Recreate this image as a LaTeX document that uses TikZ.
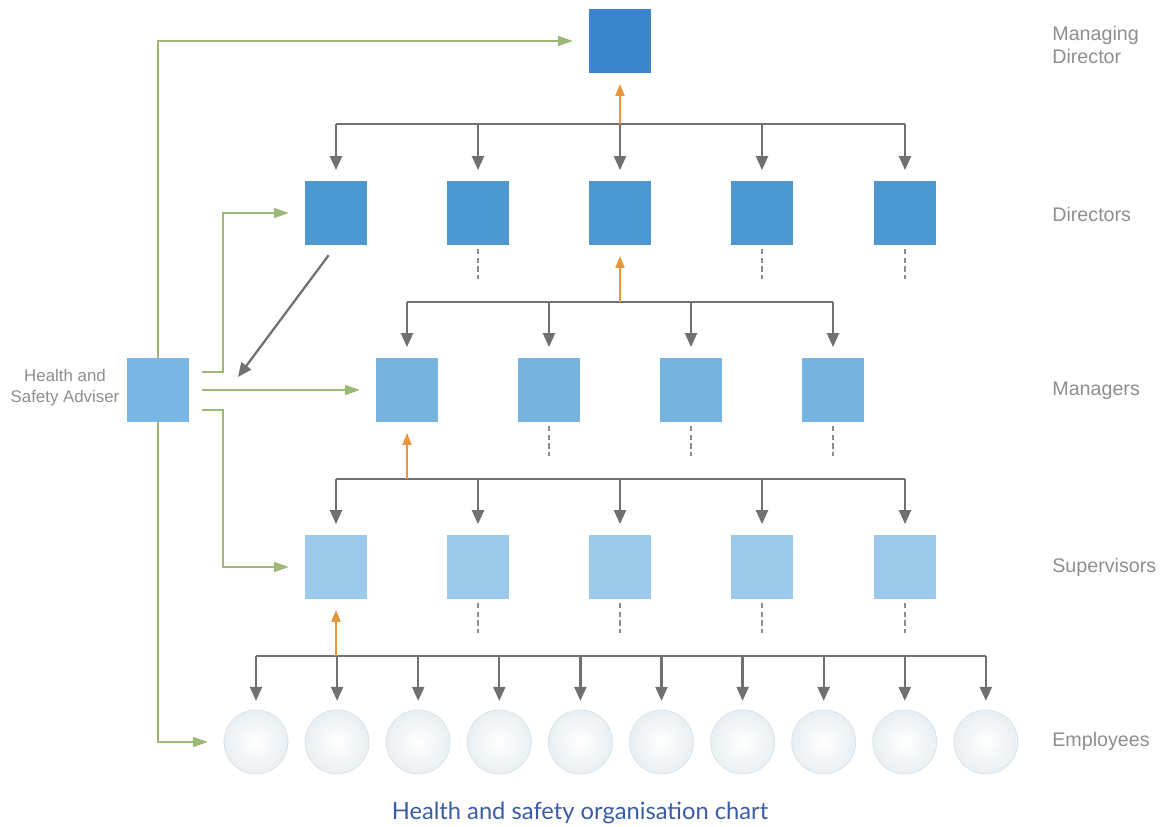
\documentclass[tikz,border=0pt]{standalone}
\usepackage{fontspec}
\setmainfont{Liberation Sans}
\newfontfamily\captionfont{Lato}
\usetikzlibrary{arrows.meta,calc,positioning}

\definecolor{mdblue}{HTML}{3A85CB}
\definecolor{dirblue}{HTML}{4A97D2}
\definecolor{manblue}{HTML}{76B3DF}
\definecolor{supblue}{HTML}{9CC9EA}
\definecolor{advblue}{HTML}{7AB7E4}
\definecolor{busgray}{HTML}{707070}
\definecolor{dashgray}{HTML}{8C8C8C}
\definecolor{uporange}{HTML}{E8953C}
\definecolor{advgreen}{HTML}{9CB877}
\definecolor{labelgray}{HTML}{8E8E8E}
\definecolor{empedge}{HTML}{D6E2EA}
\definecolor{captionblue}{HTML}{3B5CA6}

\begin{document}
\begin{tikzpicture}[
                x=0.02cm,y=-0.02cm,
                box/.style={rectangle,inner sep=0pt,minimum width=1.24cm,minimum height=1.28cm},
                mdbox/.style={box,fill=mdblue},
                dirbox/.style={box,fill=dirblue},
                manbox/.style={box,fill=manblue},
                supbox/.style={box,fill=supblue},
                advbox/.style={box,fill=advblue},
                empnode/.style={circle,inner sep=0pt,minimum size=1.28cm,draw=empedge,
                    inner color=white,outer color=empedge!55},
                bus/.style={draw=busgray,line width=1.3pt},
                downarrow/.style={bus,-{Triangle[length=0.28cm,width=0.24cm]},shorten >=6pt},
                uparrow/.style={draw=uporange,line width=1.1pt,-{Triangle[length=0.24cm,width=0.18cm]},shorten >=6pt},
                advline/.style={draw=advgreen,line width=1.1pt,-{Triangle[length=0.3cm,width=0.2cm]},shorten >=9pt},
                dotline/.style={draw=dashgray,line width=1pt,dash pattern=on 3pt off 2pt},
                rowlabel/.style={anchor=west,inner sep=0pt,text=labelgray,font=\fontsize{11.2}{13.6}\selectfont,align=left}
            ]
                \useasboundingbox (0,0) rectangle (1164,827);

                % the boxes, row by row
                \node[mdbox] (md) at (620,41) {};
                \foreach \i/\x in {1/336,2/478,3/620,4/762,5/905}
                    \node[dirbox] (dir\i) at (\x,213) {};
                \foreach \i/\x in {1/407,2/549,3/691,4/833}
                    \node[manbox] (man\i) at (\x,390) {};
                \foreach \i/\x in {1/336,2/478,3/620,4/762,5/905}
                    \node[supbox] (sup\i) at (\x,567) {};
                \foreach \i in {1,...,10}
                    \node[empnode] (emp\i) at ({256+81.1*(\i-1)},742) {};
                \node[advbox] (adv) at (158,390) {};

                % heights of the buses
                \coordinate (bus0) at (0,124);
                \coordinate (bus1) at (0,302);
                \coordinate (bus2) at (0,479);
                \coordinate (bus3) at (0,656);
                \coordinate (diagend) at (238,377);

                % buses and arrows down
                \draw[bus] (dir1.north |- bus0) -- (dir5.north |- bus0);
                \foreach \i in {1,...,5}
                    \draw[downarrow] (dir\i.north |- bus0) -- (dir\i.north);
                \draw[bus] (man1.north |- bus1) -- (man4.north |- bus1);
                \foreach \i in {1,...,4}
                    \draw[downarrow] (man\i.north |- bus1) -- (man\i.north);
                \draw[bus] (sup1.north |- bus2) -- (sup5.north |- bus2);
                \foreach \i in {1,...,5}
                    \draw[downarrow] (sup\i.north |- bus2) -- (sup\i.north);
                \draw[bus] (emp1.north |- bus3) -- (emp10.north |- bus3);
                \foreach \i in {1,...,10}
                    \draw[downarrow,shorten >=5pt] (emp\i.north |- bus3) -- (emp\i.north);

                % reporting up
                \draw[uparrow] (md.south |- bus0) -- (md.south);
                \draw[uparrow] (dir3.south |- bus1) -- (dir3.south);
                \draw[uparrow] (man1.south |- bus2) -- (man1.south);
                \draw[uparrow] (sup1.south |- bus3) -- (sup1.south);

                % dashed stubs
                \foreach \n in {dir2,dir4,dir5,man2,man3,man4,sup2,sup3,sup4,sup5}
                    \draw[dotline] ([yshift=-2pt]\n.south) -- ++(0,30);

                \draw[downarrow,shorten <=7pt,shorten >=0pt] (dir1.south) -- (diagend);

                % adviser links
                \draw[advline] (adv.north) |- (md.west);
                \draw[advline] ($(adv.east)+(13,-18)$) -- ++(21,0) |- (dir1.west);
                \draw[advline,shorten <=7pt] (adv.east) -- (man1.west);
                \draw[advline] ($(adv.east)+(13,20)$) -- ++(21,0) |- (sup1.west);
                \draw[advline] (adv.south) |- (emp1.west);

                % labels
                \node[rowlabel] (lmd) at (1052,45) {Managing\\Director};
                \node[rowlabel] (ldir) at (1052,214) {Directors};
                \node[rowlabel] (lman) at (1052,391) {Managers};
                \node[rowlabel] (lsup) at (1052,567) {Supervisors};
                \node[rowlabel] (lemp) at (1052,741) {Employees};
                \node[text=labelgray,align=center,font=\fontsize{9.6}{11.9}\selectfont] (ladv) at (65,388) {Health and\\Safety Adviser};
                \node[text=captionblue,font=\captionfont\fontsize{13.5}{16}\selectfont] (caption) at (580,813) {Health and safety organisation chart};
            \end{tikzpicture}
\end{document}
